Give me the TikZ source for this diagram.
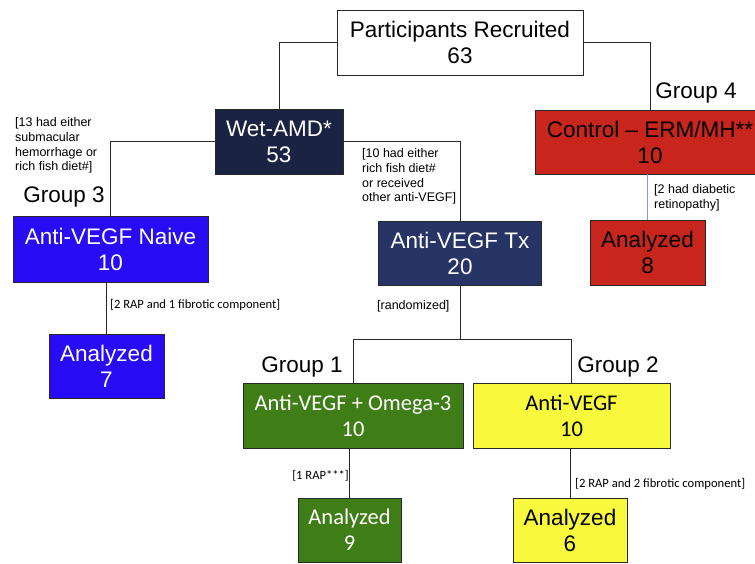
\documentclass[tikz,border=0pt]{standalone}
\usepackage{fontspec}
\setmainfont{Liberation Sans}
\newfontfamily\calibfont{Carlito}
\definecolor{navyA}{RGB}{27,35,66}
\definecolor{navyB}{RGB}{38,52,102}
\definecolor{naiveblue}{RGB}{40,12,245}
\definecolor{ctrlred}{RGB}{200,38,28}
\definecolor{omegagreen}{RGB}{63,125,23}
\definecolor{vegfyellow}{RGB}{248,248,60}
\definecolor{lineblue}{RGB}{125,155,220}
\definecolor{edgegray}{RGB}{40,40,40}
\begin{document}
\begin{tikzpicture}[x=1pt,y=-1pt,
  box/.style={draw=edgegray,line width=0.9pt,rectangle,inner sep=0pt,align=center,
    font=\fontsize{22.5}{26}\selectfont},
  cbox/.style={box,font=\calibfont\fontsize{22.5}{26}\selectfont},
  grp/.style={inner sep=0pt,font=\fontsize{22.5}{26}\selectfont},
  note/.style={inner sep=0pt,align=left,font=\fontsize{12.5}{14.8}\selectfont},
  cnote/.style={inner sep=0pt,align=left,font=\calibfont\fontsize{12.6}{15}\selectfont},
  link/.style={draw=edgegray,line width=0.9pt}]
\useasboundingbox (0,0) rectangle (755,564);
\clip (0,0) rectangle (755,564);
\fill[white] (0,0) rectangle (755,564);

% boxes
\node[box,fill=white,minimum width=246,minimum height=65] (top) at (460,42.5) {Participants Recruited\\63};
\node[box,fill=navyA,text=white,minimum width=128,minimum height=65] (wet) at (279,141.5) {Wet-AMD*\\53};
\node[box,fill=naiveblue,text=white,minimum width=195,minimum height=66] (naive) at (110.5,249) {Anti-VEGF Naive\\10};
\node[box,fill=navyB,text=white,minimum width=163,minimum height=64] (tx) at (460,253) {Anti-VEGF Tx\\20};
\node[box,fill=ctrlred,text=black,minimum width=230,minimum height=64] (ctrl) at (650,142) {Control -- ERM/MH**\\10};
\node[box,fill=ctrlred,text=black,minimum width=115,minimum height=65] (an8) at (647.5,252.5) {Analyzed\\8};
\node[box,fill=naiveblue,text=white,minimum width=115,minimum height=64] (an7) at (106.5,366) {Analyzed\\7};
\node[cbox,fill=omegagreen,text=white,minimum width=220,minimum height=65] (omega) at (353,415.5) {Anti-VEGF + Omega-3\\10};
\node[cbox,fill=vegfyellow,text=black,minimum width=197,minimum height=65] (vegf) at (571.5,415.5) {Anti-VEGF\\10};
\node[cbox,fill=omegagreen,text=white,minimum width=103,minimum height=64] (an9) at (349.5,530) {Analyzed\\9};
\node[box,fill=vegfyellow,text=black,minimum width=114,minimum height=64] (an6) at (570,530) {Analyzed\\6};

% group labels
\node[grp] (g3) at (64,197) {Group 3};
\node[grp] (g4) at (696,93) {Group 4};
\node[grp] (g1) at (302,367) {Group 1};
\node[grp] (g2) at (618,367) {Group 2};

% notes
\node[note,anchor=west] (n13) at (15,145.5) {[13 had either\\submacular\\hemorrhage or\\rich fish diet\#]};
\node[note,anchor=west] (n10) at (362,176.5) {[10 had either\\rich fish diet\#\\or received\\other anti-VEGF]};
\node[note,anchor=west] (nrand) at (377,306) {[randomized]};
\node[cnote,anchor=west] (n21) at (110,305) {[2 RAP and 1 fibrotic component]};
\node[cnote,anchor=east] (n1) at (349,476) {[1 RAP***]};
\node[cnote,anchor=west] (n22) at (575,484) {[2 RAP and 2 fibrotic component]};
\node[note,anchor=west] (ndiab) at (654,197.5) {[2 had diabetic\\retinopathy]};

% connectors
\coordinate (split) at ([yshift=-54pt]tx.south);
\draw[link] (top.west) -| (wet.north);
\draw[link] (top.east) -| (ctrl.north);
\draw[link] (wet.west) -| (naive.north);
\draw[link] (wet.east) -| (tx.north);
\draw[link] (an7.north |- naive.south) -- (an7.north);
\draw[link] (tx.south) -- (split);
\draw[link] (omega.north) |- (split) -| (vegf.north);
\draw[link] (an9.north |- omega.south) -- (an9.north);
\draw[link] (an6.north |- vegf.south) -- (an6.north);
\draw[line width=0.9pt,draw=lineblue] (an8.north |- ctrl.south) -- (an8.north);
\end{tikzpicture}
\end{document}
